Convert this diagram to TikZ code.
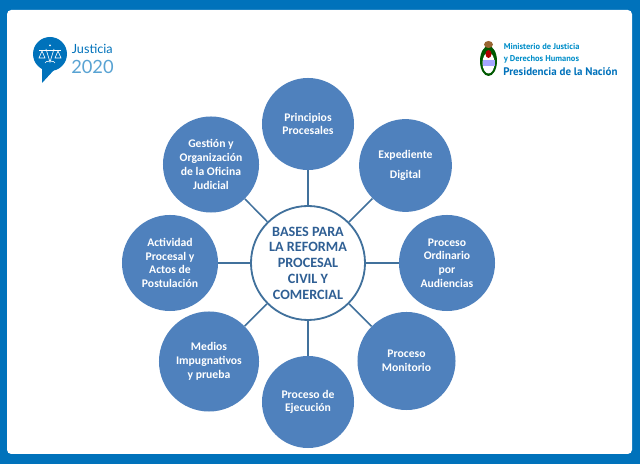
\documentclass[tikz,border=0pt]{standalone}
\usepackage{fontspec}
\setmainfont{Carlito}
\newfontfamily\logofont{Lato}
\newfontfamily\naciofont{PT Sans}
\usepackage{xcolor}
\usetikzlibrary{positioning}

\definecolor{marco}{HTML}{0072BB}
\definecolor{relleno}{HTML}{4F81BD}
\definecolor{borde}{HTML}{41719C}
\definecolor{textocentro}{HTML}{2F5F94}

\tikzset{
	rama/.style={circle,fill=relleno,inner sep=0pt,align=center,text=white,font=\fontsize{8.3}{9.8}\selectfont\bfseries},
	centro/.style={circle,draw=borde,line width=1.3pt,fill=white,inner sep=0pt,align=center,text=textocentro,font=\fontsize{10.1}{11.2}\selectfont\bfseries},
	enlace/.style={draw=borde,line width=1.1pt},
	icono/.style={draw=white,line width=0.45pt}
}

\begin{document}
\begin{tikzpicture}[x=0.025cm,y=-0.025cm]
	\useasboundingbox (0,0) rectangle (640,464);
	\fill[marco] (0,0) rectangle (640,464);
	\fill[white,rounded corners=3pt] (7,10) rectangle (632,454);

	% logo izquierda
	\fill[marco] (50,54) circle (17);
	\fill[marco] (42,68) -- (42,83) -- (54,70) -- cycle;
	\fill[white] (50,45.5) circle (1);
	\draw[icono] (46,49) -- (50,62) -- (54,49);
	\draw[icono] (39,50) -- (61,50);
	\draw[icono] (42,51) -- (39,58) -- (45,58) -- cycle;
	\draw[icono] (58,51) -- (55,58) -- (61,58) -- cycle;
	\draw[icono] (45,63) arc (180:360:5 and 2);
	\node[anchor=west,inner sep=0pt,text=marco,font=\logofont\fontsize{9}{10}\selectfont] (justicia) at (71.5,49) {Justicia};
	\node[anchor=west,inner sep=0pt,text=marco!65,font=\logofont\fontsize{13}{14}\selectfont] (anio) at (71,66.5) {2020};

	% logo derecha
	\fill[black!65!green] (488.5,61) ellipse (8.5 and 15);
	\fill[white] (488.5,63) ellipse (6 and 10.5);
	\fill[blue!35!white] (482.5,60) rectangle (494.5,66);
	\fill[red!70!black] (488.5,54) ellipse (3 and 4);
	\fill[brown!80!black] (488.5,44.5) ellipse (4.5 and 3.5);
	\node[anchor=west,inner sep=0pt,text=marco!80!cyan,font=\naciofont\bfseries\fontsize{6}{8.6}\selectfont,align=left] (ministerio) at (503.5,53.5) {Ministerio de Justicia\\y Derechos Humanos};
	\node[anchor=west,inner sep=0pt,text=marco,font=\naciofont\bfseries\fontsize{7.8}{9}\selectfont] (presidencia) at (503,72) {Presidencia de la Naci\'on};

	% diagrama
	\node[centro,minimum size=2.85cm] (bases) at (308,263) {BASES PARA\\LA REFORMA\\PROCESAL\\CIVIL Y\\COMERCIAL};
	\node[rama,minimum size=2.3cm] (principios) at (308,124) {Principios\\Procesales};
	\node[rama,minimum size=2.32cm] (expediente) at (405.5,165.5) {Expediente\\[4pt]Digital};
	\node[rama,minimum size=2.4cm] (ordinario) at (447,263) {Proceso\\Ordinario\\por\\Audiencias};
	\node[rama,minimum size=2.45cm] (monitorio) at (406.5,361) {Proceso\\Monitorio};
	\node[rama,minimum size=2.3cm] (ejecucion) at (308,402) {Proceso de\\Ejecuci\'on};
	\node[rama,minimum size=2.5cm] (medios) at (209,361.5) {Medios\\Impugnativos\\y prueba};
	\node[rama,minimum size=2.4cm] (actividad) at (170,263) {Actividad\\Procesal y\\Actos de\\Postulaci\'on};
	\node[rama,minimum size=2.4cm] (gestion) at (211,164.5) {Gesti\'on y\\Organizaci\'on\\de la Oficina\\Judicial};

	\foreach \rama in {principios,expediente,ordinario,monitorio,ejecucion,medios,actividad,gestion}
		\draw[enlace] (bases) -- (\rama);
\end{tikzpicture}
\end{document}
